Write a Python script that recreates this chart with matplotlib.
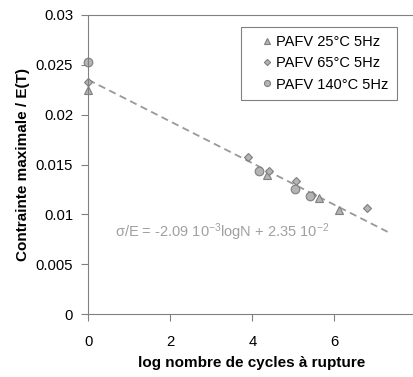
import matplotlib
matplotlib.use("Agg")
import matplotlib.pyplot as plt
import numpy as np

plt.rcParams["font.family"] = ["Liberation Sans", "DejaVu Sans"]
plt.rcParams["mathtext.fontset"] = "custom"
plt.rcParams["mathtext.rm"] = "Liberation Sans"
plt.rcParams["mathtext.it"] = "Liberation Sans"

# données
x_25 = [0.0, 4.37, 5.63, 6.12]
y_25 = [0.0225, 0.0139, 0.0116, 0.0104]
x_65 = [0.0, 3.90, 4.41, 5.06, 5.45, 6.80]
y_65 = [0.0233, 0.0158, 0.0143, 0.0133, 0.0119, 0.0106]
x_140 = [0.0, 4.17, 5.04, 5.40]
y_140 = [0.0253, 0.0143, 0.0125, 0.0118]
fit_slope, fit_icpt = -2.09e-3, 2.35e-2
fit_x = [0.0, 7.3]

W, H = 414, 377
fig = plt.figure(figsize=(W / 100, H / 100), dpi=100)
x0, x8, y0, y3 = 88.3, 416.3, 314, 15
ax = fig.add_axes([x0 / W, (H - y0) / H, (x8 - x0) / W, (y0 - y3) / H])

fx = np.array(fit_x)
ax.plot(fx, fit_slope * fx + fit_icpt, ls=(0, (4, 2.5)), color="#999999", lw=1.3)

mk = dict(ls="none", mfc="#b4b4b4", mec="#7f7f7f", mew=0.8, clip_on=False)
ax.plot(x_25, y_25, marker="^", ms=6.2, label="PAFV 25°C 5Hz", **mk)
ax.plot(x_65, y_65, marker="D", ms=4.5, label="PAFV 65°C 5Hz", **mk)
ax.plot(x_140, y_140, marker="o", ms=6.2, label="PAFV 140°C 5Hz", **mk)

ax.set_xlim(0, 8)
ax.set_ylim(0, 0.03)
ax.set_xticks([0, 2, 4, 6, 8])
ax.set_yticks([0, 0.005, 0.01, 0.015, 0.02, 0.025, 0.03])
ax.set_yticklabels(["0", "0.005", "0.01", "0.015", "0.02", "0.025", "0.03"])
for s in ["left", "bottom", "top"]:
    ax.spines[s].set_color("#808080")
ax.spines["right"].set_visible(False)
ax.tick_params(direction="out", length=5, color="#808080", labelsize=10.7)
ax.tick_params(axis="x", pad=10)
ax.tick_params(axis="y", pad=6)

ax.set_xlabel("log nombre de cycles à rupture", fontsize=11, fontweight="bold", va="center")
ax.set_ylabel("Contrainte maximale / E(T)", fontsize=11, fontweight="bold", va="center")
ax.xaxis.set_label_coords((252 - x0) / (x8 - x0), (y0 - 363) / (y0 - y3))
ax.yaxis.set_label_coords((23 - x0) / (x8 - x0), 0.5)

ax.text(0.64, 0.0082, r"σ/E = -2.09 10$^{\mathregular{-3}}$logN + 2.35 10$^{\mathregular{-2}}$",
        color="#a0a0a0", fontsize=10.5, va="center")

leg = ax.legend(loc="upper left", bbox_to_anchor=((241.5 - x0) / (x8 - x0), 1 - (27 - y3) / (y0 - y3)),
                frameon=True, fancybox=False, fontsize=10.5, handletextpad=-0.6,
                labelspacing=0.5, borderpad=0.55, handlelength=2.45, markerscale=0.7,
                borderaxespad=0)
leg.get_frame().set_edgecolor("#606060")
leg.get_frame().set_linewidth(0.8)

fig.savefig("out.png", dpi=100)
